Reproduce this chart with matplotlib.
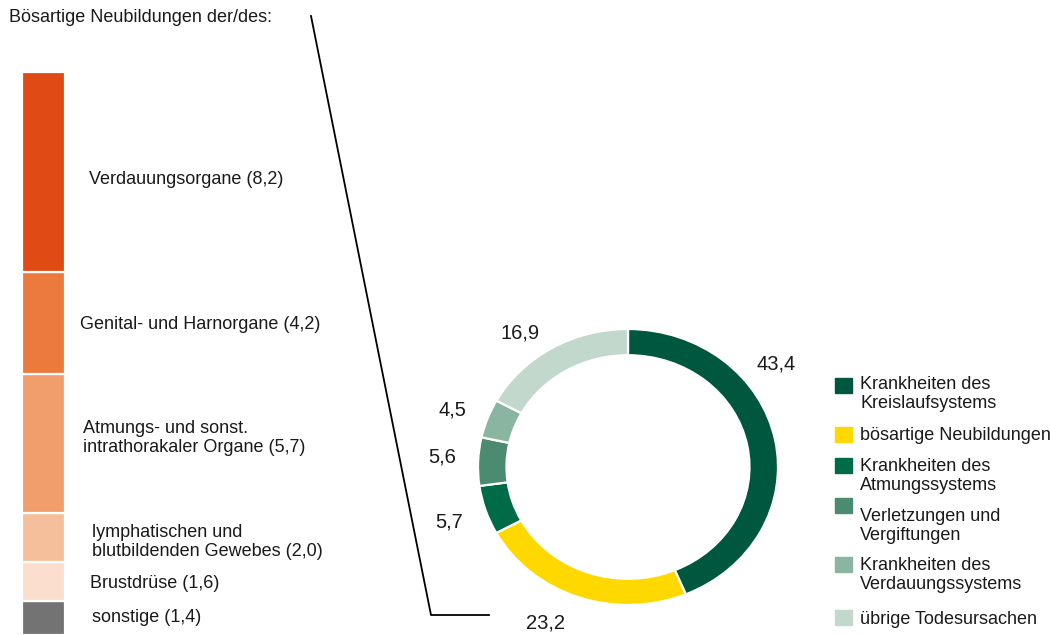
import matplotlib
matplotlib.use("Agg")
import matplotlib.pyplot as plt
from matplotlib import transforms
from matplotlib.patches import Rectangle
from matplotlib.lines import Line2D

plt.rcParams['font.family'] = ['Liberation Sans', 'DejaVu Sans']

# left stacked bar: malignant neoplasms by site (top to bottom)
sites = ["Verdauungsorgane (8,2)", "Genital- und Harnorgane (4,2)",
         "Atmungs- und sonst.\nintrathorakaler Organe (5,7)",
         "lymphatischen und\nblutbildenden Gewebes (2,0)",
         "Brustdrüse (1,6)", "sonstige (1,4)"]
site_vals = [8.2, 4.2, 5.7, 2.0, 1.6, 1.4]
site_colors = ["#E04A14", "#EC7A3C", "#F19E6C", "#F6BF9C", "#FBDECC", "#737373"]

# donut: causes of death
causes = ["Krankheiten des\nKreislaufsystems", "bösartige Neubildungen",
          "Krankheiten des\nAtmungssystems", "Verletzungen und\nVergiftungen",
          "Krankheiten des\nVerdauungssystems", "übrige Todesursachen"]
cause_vals = [43.4, 23.2, 5.7, 5.6, 4.5, 16.9]
cause_labels = ["43,4", "23,2", "5,7", "5,6", "4,5", "16,9"]
cause_colors = ["#00573F", "#FFD800", "#006B47", "#4B8B70", "#8AB5A0", "#C3D8CC"]

W, H = 1050, 635
fig = plt.figure(figsize=(W / 100, H / 100), dpi=100)


def fx(x):
    return x / W


def fy(y):
    return 1 - y / H


txt = "#1a1a1a"
fs = 13

fig.text(fx(9), fy(18), "Bösartige Neubildungen der/des:", fontsize=fs,
         color=txt, va="center", ha="left")

# stacked bar
ax_bar = fig.add_axes([fx(22), 0, fx(43), (635 - 72) / H])
total = sum(site_vals)
bottom = 0
mids = []
for v, c in zip(site_vals[::-1], site_colors[::-1]):
    ax_bar.bar(0, v, bottom=bottom, width=1, color=c, edgecolor="white", linewidth=1.6)
    mids.append(bottom + v / 2)
    bottom += v
mids = mids[::-1]
ax_bar.set_xlim(-0.5, 0.5)
ax_bar.set_ylim(0, total)
ax_bar.axis("off")

trans = transforms.blended_transform_factory(fig.transFigure, ax_bar.transData)
label_x = [89, 80, 83, 92, 90, 92]
label_dy = [-0.3, -0.08, 0.25, -0.2, -0.1, 0.0]
for lab, m, lx, dy in zip(sites, mids, label_x, label_dy):
    ax_bar.text(fx(lx), m + dy, lab, transform=trans, fontsize=fs, color=txt,
                va="center", ha="left", linespacing=1.15)

# donut
ax_pie = fig.add_axes([fx(628 - 150), fy(605), 300 / W, 276 / H])
ax_pie.pie(cause_vals, colors=cause_colors, startangle=90, counterclock=False,
           radius=1, wedgeprops=dict(width=0.19, edgecolor="white", linewidth=1.6))
ax_pie.set_aspect("auto")
ax_pie.set_xlim(-1, 1)
ax_pie.set_ylim(-1, 1)
lab_pos = [(0.99, 0.75), (-0.55, -1.13), (-1.19, -0.40), (-1.24, 0.07),
           (-1.17, 0.41), (-0.72, 0.97)]
for lab, (x, y) in zip(cause_labels, lab_pos):
    ax_pie.text(x, y, lab, fontsize=14.5, color=txt, ha="center", va="center")

# connector line
fig.add_artist(Line2D([fx(311), fx(431), fx(489)], [fy(16), fy(615), fy(615)],
                      color="black", linewidth=1.3, transform=fig.transFigure))

# legend
box_tops = [378, 427, 458, 498, 557, 610]
text_mid = [382, 433, 464, 514, 563, 617]
for lab, c, top, tm in zip(causes, cause_colors, box_tops, text_mid):
    fig.add_artist(Rectangle((fx(835), fy(top + 15)), 17 / W, 15 / H,
                             color=c, transform=fig.transFigure))
    fig.text(fx(860), fy(tm - 6), lab, fontsize=fs, color=txt,
             ha="left", va="top", linespacing=1.15)

fig.savefig("out.png", dpi=100)
